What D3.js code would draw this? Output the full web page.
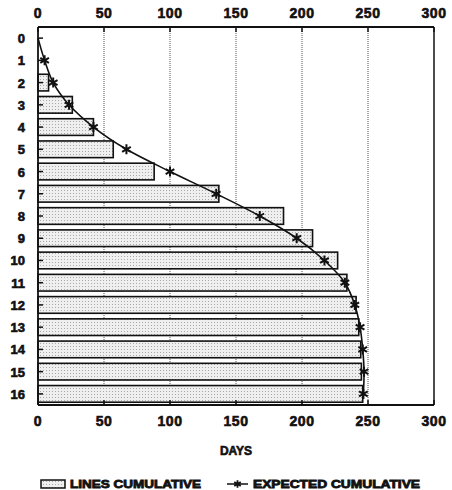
<!DOCTYPE html>
<html>
<head>
<meta charset="utf-8">
<script src="https://cdn.jsdelivr.net/npm/d3@7"></script>
<style>
  body { margin: 0; background: #fff; }
  text { font-family: "Liberation Sans", Arial, sans-serif; font-weight: bold; fill: #111; stroke: #111; stroke-width: 0.6px; }
</style>
</head>
<body>
<div id="chart"></div>
<script>
// row labels down the side
var rows = [0, 1, 2, 3, 4, 5, 6, 7, 8, 9, 10, 11, 12, 13, 14, 15, 16];
var linesCumulative = [0, 0, 8, 26, 42, 57, 88, 137, 186, 208, 227, 234, 241, 243, 244.5, 245, 246];
var expectedCumulative = [null, 5, 11.5, 23.5, 42, 67, 100, 135, 168, 196, 217, 232.5, 240, 244, 246, 247, 246.5];
var xTicks = [0, 50, 100, 150, 200, 250, 300];

var W = 452, H = 490;
var svg = d3.select('#chart').append('svg')
  .attr('width', W).attr('height', H);

var defs = svg.append('defs');
var pat = defs.append('pattern')
  .attr('id', 'dots')
  .attr('patternUnits', 'userSpaceOnUse')
  .attr('width', 3).attr('height', 3);
pat.append('rect').attr('width', 3).attr('height', 3).attr('fill', '#efefef');
pat.append('rect').attr('x', 1).attr('y', 1).attr('width', 1).attr('height', 1).attr('fill', '#a8a8a8');

var x = d3.scaleLinear().domain([0, 300]).range([38, 434]);
var y = d3.scaleBand().domain(rows).range([27, 405]).paddingInner(0.25).paddingOuter(0.125);

// dotted grid
svg.selectAll('line.grid')
  .data(xTicks.slice(1, -1))
  .enter()
  .append('line')
    .attr('class', 'grid')
    .attr('x1', function(d) { return x(d); })
    .attr('x2', function(d) { return x(d); })
    .attr('y1', 27).attr('y2', 405)
    .attr('stroke', '#555')
    .attr('stroke-width', 1)
    .attr('stroke-dasharray', '1,1');

// bars
svg.selectAll('rect.bar')
  .data(linesCumulative.map(function(v, i) { return { r: rows[i], v: v }; }).filter(function(d) { return d.v > 0; }))
  .enter()
  .append('rect')
    .attr('class', 'bar')
    .attr('x', x(0))
    .attr('y', function(d) { return y(d.r); })
    .attr('width', function(d) { return x(d.v) - x(0); })
    .attr('height', y.bandwidth())
    .attr('fill', 'url(#dots)')
    .attr('stroke', '#111')
    .attr('stroke-width', 1.6);

// frame
var frame = svg.append('g').attr('stroke', '#111').attr('fill', 'none');
frame.append('line').attr('x1', x(0)).attr('x2', x(300)).attr('y1', 27).attr('y2', 27).attr('stroke-width', 1.8);
frame.append('line').attr('x1', x(0)).attr('x2', x(300)).attr('y1', 405).attr('y2', 405).attr('stroke-width', 1.8);
frame.append('line').attr('x1', x(0)).attr('x2', x(0)).attr('y1', 27).attr('y2', 405).attr('stroke-width', 1.8);
frame.append('line').attr('x1', x(300)).attr('x2', x(300)).attr('y1', 27).attr('y2', 405).attr('stroke-width', 1.5);

// x ticks top and bottom
xTicks.forEach(function(t) {
  frame.append('line').attr('x1', x(t)).attr('x2', x(t)).attr('y1', 27).attr('y2', 32).attr('stroke-width', 1.5);
  frame.append('line').attr('x1', x(t)).attr('x2', x(t)).attr('y1', 405).attr('y2', 400).attr('stroke-width', 1.5);
});
// y ticks
rows.forEach(function(r) {
  frame.append('line')
    .attr('x1', x(0)).attr('x2', x(0) + 5)
    .attr('y1', y(r) + y.bandwidth() / 2).attr('y2', y(r) + y.bandwidth() / 2)
    .attr('stroke-width', 1.5);
});

svg.selectAll('text.xtop')
  .data(xTicks).enter().append('text')
    .attr('x', function(d) { return x(d); })
    .attr('y', 18)
    .attr('text-anchor', 'middle')
    .style('font-size', '14px')
    .style('letter-spacing', '0.5px')
    .text(function(d) { return d; });

svg.selectAll('text.xbot')
  .data(xTicks).enter().append('text')
    .attr('x', function(d) { return x(d); })
    .attr('y', 426)
    .attr('text-anchor', 'middle')
    .style('font-size', '14px')
    .style('letter-spacing', '0.5px')
    .text(function(d) { return d; });

svg.selectAll('text.ylab')
  .data(rows).enter().append('text')
    .attr('x', 25)
    .attr('y', function(d) { return y(d) + y.bandwidth() / 2 + 5; })
    .attr('text-anchor', 'end')
    .style('font-size', '13px')
    .text(function(d) { return d; });

// expected cumulative line
var pts = expectedCumulative.map(function(v, i) { return { r: rows[i], v: v === null ? 0 : v, m: v !== null }; });
var line = d3.line()
  .x(function(d) { return x(d.v); })
  .y(function(d) { return y(d.r) + y.bandwidth() / 2; })
  .curve(d3.curveCatmullRom);
svg.append('path')
  .datum(pts)
  .attr('d', line)
  .attr('fill', 'none')
  .attr('stroke', '#111')
  .attr('stroke-width', 1.6);

var star = d3.symbol().type(d3.symbolAsterisk).size(70);
svg.selectAll('path.star')
  .data(pts.filter(function(d) { return d.m; }))
  .enter()
  .append('path')
    .attr('class', 'star')
    .attr('d', star)
    .attr('transform', function(d) { return 'translate(' + x(d.v) + ',' + (y(d.r) + y.bandwidth() / 2) + ')'; })
    .attr('fill', 'none')
    .attr('stroke', '#111')
    .attr('stroke-width', 2);

svg.append('text')
  .attr('x', 236).attr('y', 455)
  .attr('text-anchor', 'middle')
  .style('font-size', '12px')
  .text('DAYS');

// legend
var lg = svg.append('g');
lg.append('rect')
  .attr('x', 41).attr('y', 480).attr('width', 24).attr('height', 8)
  .attr('fill', 'url(#dots)').attr('stroke', '#111').attr('stroke-width', 1.5);
lg.append('text')
  .attr('x', 70).attr('y', 488)
  .attr('textLength', 131).attr('lengthAdjust', 'spacingAndGlyphs')
  .style('font-size', '11px')
  .style('stroke-width', '0.8px')
  .text('LINES CUMULATIVE');
lg.append('line')
  .attr('x1', 227).attr('x2', 248).attr('y1', 484).attr('y2', 484)
  .attr('stroke', '#111').attr('stroke-width', 1.5);
lg.append('path')
  .attr('d', d3.symbol().type(d3.symbolAsterisk).size(40))
  .attr('transform', 'translate(237.5,484)')
  .attr('fill', 'none').attr('stroke', '#111').attr('stroke-width', 1.8);
lg.append('text')
  .attr('x', 253).attr('y', 488)
  .attr('textLength', 167).attr('lengthAdjust', 'spacingAndGlyphs')
  .style('font-size', '11px')
  .style('stroke-width', '0.8px')
  .text('EXPECTED CUMULATIVE');
</script>
</body>
</html>
